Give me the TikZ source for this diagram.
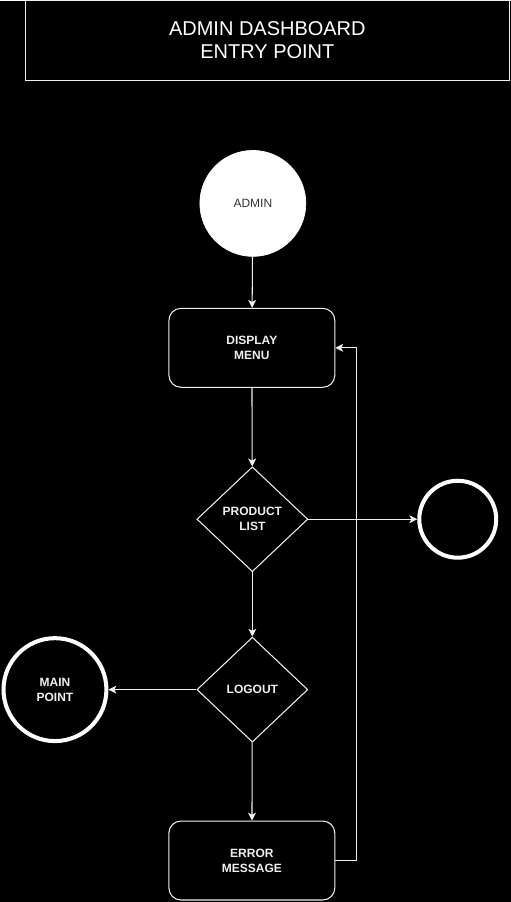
\documentclass[tikz,border=0pt]{standalone}
\usepackage{fontspec}
\setmainfont{Liberation Sans}
\usetikzlibrary{shapes.geometric,arrows.meta}

\begin{document}
\begin{tikzpicture}
	[
	x = {(0.020000cm, 0.000000cm)},
	y = {(0.000000cm, -0.020000cm)},
	small/.style = {font = \fontsize{6.83pt}{8.54pt}\selectfont\bfseries, text = white!94!black, align = center},
	title/.style = {draw = white!94!black, line width = 0.6pt, minimum width = 9.70cm, minimum height = 1.60cm, inner sep = 0pt, text = white, align = center, font = \fontsize{11.38pt}{13.09pt}\selectfont},
	startnode/.style = {circle, fill = white, draw = white, minimum size = 2.12cm, inner sep = 0pt, align = center, font = \fontsize{6.83pt}{8.54pt}\selectfont, text = black!80},
	endnode/.style = {circle, draw = white, line width = 2.3pt, inner sep = 0pt, small},
	process/.style = {rectangle, rounded corners = 0.24cm, draw = white!94!black, line width = 0.6pt, minimum width = 3.32cm, minimum height = 1.58cm, inner sep = 0pt, small},
	decision/.style = {diamond, draw = white!94!black, line width = 0.6pt, minimum width = 2.22cm, minimum height = 2.10cm, inner sep = 0pt, small},
	flow/.style = {color = white!94!black, line width = 0.6pt, -{Stealth[length = 4.5pt, width = 4.5pt, inset = 1.2pt]}}]
	
	\fill[black] (0, 0) rectangle (511, 902);
	
	%% Drawing the nodes
	
	\node[title] (title) at (267.5, 40) {ADMIN DASHBOARD\\ENTRY POINT};
	\node[startnode] (admin) at (253, 203) {ADMIN};
	\node[process] (menu) at (252, 347.5) {DISPLAY\\MENU};
	\node[decision] (product) at (252.5, 519) {PRODUCT\\LIST};
	\node[endnode, minimum size = 1.54cm] (productend) at (458, 519) {};
	\node[decision] (logout) at (252.5, 689.5) {LOGOUT};
	\node[endnode, minimum size = 2.06cm] (mainpoint) at (55, 689.5) {MAIN\\POINT};
	\node[process] (error) at (252, 860.5) {ERROR\\MESSAGE};
	
	%% Drawing the connectors
	
	\draw[flow] (admin) -- (menu);
	\draw[flow] (menu) -- (product);
	\draw[flow] (product) -- (productend);
	\draw[flow] (product) -- (logout);
	\draw[flow] (logout) -- (mainpoint);
	\draw[flow] (logout) -- (error);
	\draw[flow] (error.east) -- ++(21, 0) |- (menu.east);
\end{tikzpicture}
\end{document}
